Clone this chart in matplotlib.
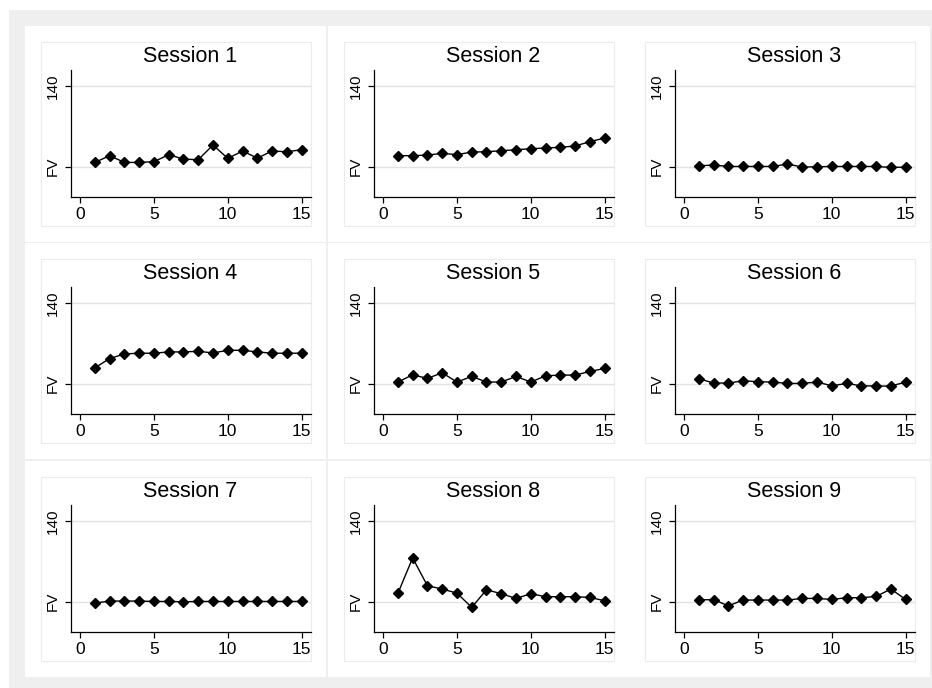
import matplotlib
matplotlib.use("Agg")
import matplotlib.pyplot as plt
from matplotlib.patches import Rectangle

plt.rcParams['font.family'] = ['Liberation Sans', 'DejaVu Sans']

periods = list(range(1, 16))
titles = [f"Session {i}" for i in range(1, 10)]
FV = 60
s1 = [64.3, 71.0, 64.3, 64.3, 65.0, 72.0, 67.6, 67.0, 81.6, 68.3, 75.6, 68.6, 75.6, 74.9, 76.9]
s2 = [71.0, 71.0, 71.6, 73.3, 72.0, 74.6, 74.9, 75.9, 76.9, 77.9, 78.6, 79.3, 80.6, 84.9, 88.5]
s3 = [61.0, 61.7, 60.3, 60.3, 60.3, 60.3, 62.7, 59.7, 60.0, 60.3, 60.3, 60.3, 60.3, 59.3, 59.7]
s4 = [75.8, 85.0, 89.6, 90.3, 90.3, 91.6, 91.6, 92.2, 90.6, 93.2, 93.2, 91.6, 90.3, 90.3, 90.3]
s5 = [61.7, 68.9, 65.3, 70.9, 61.7, 67.3, 61.7, 61.7, 67.3, 61.7, 67.9, 68.6, 68.6, 72.2, 75.2]
s6 = [65.0, 60.7, 60.7, 63.0, 62.0, 61.7, 60.3, 60.3, 61.7, 58.0, 60.3, 58.0, 57.7, 57.7, 61.7]
s7 = [58.7, 60.7, 60.7, 60.7, 60.3, 60.3, 60.0, 60.3, 60.3, 60.3, 60.3, 60.3, 60.3, 60.3, 60.3]
s8 = [68.3, 103.5, 75.9, 72.6, 68.6, 54.4, 71.9, 68.0, 63.3, 68.0, 65.0, 65.0, 65.0, 64.3, 61.0]
s9 = [62.0, 62.0, 56.0, 61.7, 61.7, 61.7, 61.7, 63.3, 63.3, 62.3, 64.0, 64.0, 65.3, 72.6, 62.3]
series = [s1, s2, s3, s4, s5, s6, s7, s8, s9]
ytick_vals = [FV, 140]
ytick_labels = ["FV", "140"]
xtick_vals = [0, 5, 10, 15]

W, H = 932, 688
fig = plt.figure(figsize=(W / 100, H / 100), dpi=100)
fig.patch.set_facecolor("white")


def frect(x0, y0, x1, y1, **kw):
    r = Rectangle((x0 / W, 1 - y1 / H), (x1 - x0) / W, (y1 - y0) / H,
                  transform=fig.transFigure, **kw)
    fig.patches.append(r)


# gray outer frame
frect(9, 10, 932, 688, facecolor="#efefef", edgecolor="none", zorder=-3)

col_left = [25, 328, 629]
row_top = [26, 243, 461]
cw, ch = 301, 216

for i, (vals, title) in enumerate(zip(series, titles)):
    r, c = divmod(i, 3)
    cl, ct = col_left[c], row_top[r]
    cr = min(cl + cw, 932)
    frect(cl, ct, cr, ct + ch, facecolor="white", edgecolor="none", zorder=-2)
    frect(cl + 16, ct + 16, cl + 286, ct + ch - 16, facecolor="white",
          edgecolor="#ececec", linewidth=0.8, zorder=-1)
    ax_l, ax_r = cl + 45.5, cl + 285.5
    ax_t, ax_b = ct + 44, ct + 171
    ax = fig.add_axes([ax_l / W, 1 - ax_b / H, (ax_r - ax_l) / W, (ax_b - ax_t) / H])
    ax.set_facecolor("none")
    ax.plot(periods, vals, color="black", linewidth=1.0, marker="D",
            markersize=5.4, markerfacecolor="black", markeredgecolor="black",
            zorder=3)
    ax.set_xlim(-0.65, 15.6)
    ax.set_ylim(30, 156)
    ax.set_xticks(xtick_vals)
    ax.set_xticklabels([str(v) for v in xtick_vals], fontsize=12.5)
    ax.set_yticks(ytick_vals)
    ax.set_yticklabels(ytick_labels, fontsize=11, rotation=90, va="center")
    ax.yaxis.grid(True, color="#e3e3e3", linewidth=1.0)
    ax.set_axisbelow(True)
    for s in ["top", "right"]:
        ax.spines[s].set_visible(False)
    for s in ["left", "bottom"]:
        ax.spines[s].set_linewidth(0.9)
        ax.spines[s].set_color("black")
    ax.tick_params(axis="x", length=4, width=0.9, pad=3, colors="black")
    ax.tick_params(axis="y", length=4.5, width=0.9, pad=3.5, colors="black")
    ax.set_title(title, fontsize=15.5, pad=6)

fig.savefig("out.png", dpi=100, facecolor="white")
